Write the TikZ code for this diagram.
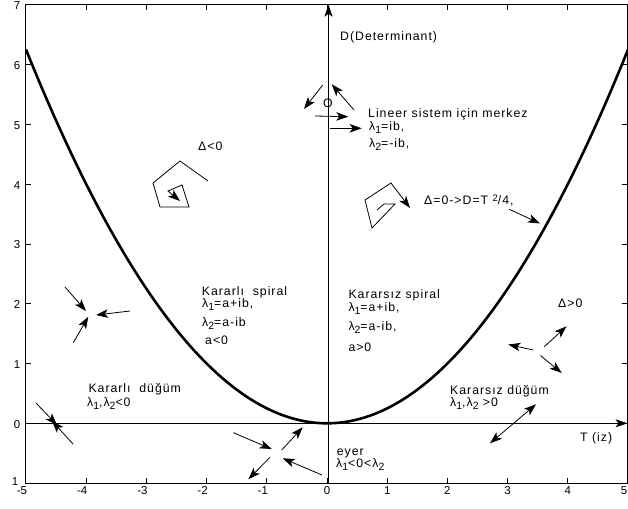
\documentclass[tikz,border=0pt]{standalone}
\usepackage{fontspec}
\setmainfont{Liberation Sans}
\newfontfamily\labfont[LetterSpace=8]{Liberation Sans}
\usetikzlibrary{arrows.meta}
\newcommand{\lsub}[1]{\raisebox{-3pt}{\fontsize{10.5}{11}\selectfont #1}}
\newcommand{\lsup}[1]{\raisebox{3pt}{\fontsize{9.5}{10}\selectfont #1}}
\begin{document}
\begin{tikzpicture}[x=1pt,y=-1pt,
  lab/.style={anchor=base west, inner sep=0pt, font=\labfont\fontsize{12.3}{14}\selectfont},
  arr/.style={line width=0.8pt, -{Stealth[length=12pt,width=8.5pt,inset=3pt]}},
  dblarr/.style={line width=0.8pt, {Stealth[length=12pt,width=8.5pt,inset=3pt]}-{Stealth[length=12pt,width=8.5pt,inset=3pt]}},
  tickmark/.style={line width=0.7pt},
  ticklab/.style={inner sep=0pt, font=\fontsize{11.5}{12}\selectfont},
  axisline/.style={line width=0.8pt, -{Stealth[length=12pt,width=8pt,inset=3pt]}},
  curve/.style={line width=2.6pt}]
\useasboundingbox (0,0) rectangle (628,508);
% frame
\draw[line width=0.8pt] (25,4.7) rectangle (627.5,483.1);
\foreach \t in {-4,...,4} {
  \draw[tickmark] ({327+60.2*\t},4.7) -- ++(0,5.5);
  \draw[tickmark] ({327+60.2*\t},483.1) -- ++(0,-5.5);
}
\foreach \d in {0,...,6} {
  \draw[tickmark] (25,{423.3-59.8*\d}) -- ++(5.5,0);
  \draw[tickmark] (627.5,{423.3-59.8*\d}) -- ++(-5.5,0);
}
% tick labels
\foreach \d in {0,...,7} \node[ticklab,anchor=east] (yl\d) at (20.5,{424.3-59.8*\d}) {\d};
\node[ticklab,anchor=east] (ylm) at (18.5,481.5) {1};
\foreach \t [count=\i] in {-5,...,-1} \node[ticklab,anchor=north] (xlm\i) at ({323+60.2*\t},486.5) {\t};
\foreach \t in {0,...,4} \node[ticklab,anchor=north] (xl\t) at ({327+60.2*\t},486.5) {\t};
\node[ticklab,anchor=north east] (xl5) at (627.5,486.5) {5};
% axes
\coordinate (xs) at (25,423.3);
\coordinate (xe) at (627.5,423.3);
\coordinate (ys) at (328.5,483.1);
\coordinate (ye) at (328.5,4.7);
\draw[axisline] (xs) -- (xe);
\draw[axisline] (ys) -- (ye);
% parabola
\draw[curve] plot[domain=-5:5,samples=101,smooth] ({327+60.2*\x},{423.3-14.95*\x*\x});
% labels
\node[lab] (dlab) at (340,40.5) {D(Determinant)};
\node[lab] (olab) at (323,107) {O};
\node[lab] (merkez) at (368,117.5) {Lineer sistem için merkez};
\node[lab] (m1) at (369,130) {λ\lsub{1}=ib,};
\node[lab] (m2) at (369,147.3) {λ\lsub{2}=-ib,};
\node[lab] (dneg) at (198,150) {Δ<0};
\node[lab] (dzero) at (424,204) {Δ=0->D=T \lsup{2}/4,};
\node[lab] (ks) at (201.7,295.3) {Kararlı\ \ spiral};
\node[lab] (ks1) at (202,307.3) {λ\lsub{1}=a+ib,};
\node[lab] (ks2) at (202,326) {λ\lsub{2}=a-ib};
\node[lab] (ks3) at (205,344) {a<0};
\node[lab] (us) at (348.3,298.3) {Kararsız spiral};
\node[lab] (us1) at (348.3,311.7) {λ\lsub{1}=a+ib,};
\node[lab] (us2) at (348.3,330) {λ\lsub{2}=a-ib,};
\node[lab] (us3) at (348.3,351.7) {a>0};
\node[lab] (dpos) at (558,307.3) {Δ>0};
\node[lab] (kd) at (88.3,392.7) {Kararlı\ \ düğüm};
\node[lab] (kd1) at (87,406.7) {λ\lsub{1},λ\lsub{2}<0};
\node[lab] (ud) at (450,394) {Kararsız düğüm};
\node[lab] (ud1) at (450,406.7) {λ\lsub{1},λ\lsub{2} >0};
\node[lab] (tlab) at (580,441.7) {T (iz)};
\node[lab] (eyer) at (336.7,455) {eyer};
\node[lab] (eyer1) at (336,467.3) {λ\lsub{1}<0<λ\lsub{2}};
% center arrows
\draw[arr] (322.7,85) -- (304,109);
\draw[arr] (354,110) -- (331.7,84.3);
\draw[arr] (315,116) -- (348.3,116.7);
\draw[arr] (330,128.3) -- (361.7,128.3);
% stable spiral sketch
\draw[arr] (208,181) -- (180,161) -- (153,183) -- (160,207) -- (189,207) -- (182,185) -- (168,191) -- (180,201);
% degenerate sketch
\draw[arr] (377,210) -- (384,204) -- (395,204) -- (372,228) -- (365,200) -- (391,183) -- (410,208);
% pointer to curve
\draw[arr] (509.3,209.3) -- (540,223.5);
% stable spiral arrows
\draw[arr] (65,287) -- (86,311);
\draw[arr] (130,311) -- (96,315);
\draw[arr] (73.3,342.7) -- (88.3,316.7);
% Delta>0 arrows
\draw[arr] (533.3,350) -- (508.3,344.5);
\draw[arr] (544.3,346.7) -- (566.5,326.3);
\draw[arr] (540.5,355.5) -- (561.7,373);
% stable node
\draw[arr] (36,403) -- (57,425);
\draw[arr] (73,444) -- (52,421);
% saddle
\draw[arr] (233.3,432.7) -- (271.7,449);
\draw[arr] (281.7,450) -- (302.7,427.3);
\draw[arr] (270,457.3) -- (248.3,479.3);
\draw[arr] (322,475) -- (282.7,458.3);
% unstable node
\draw[dblarr] (490,443.3) -- (536,404.3);
\end{tikzpicture}
\end{document}
